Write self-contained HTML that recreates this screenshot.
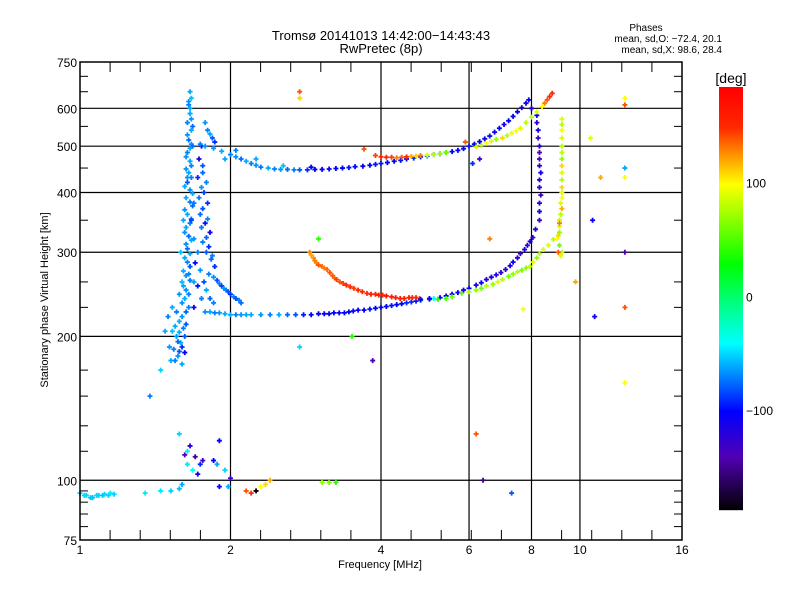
<!DOCTYPE html>
<html><head><meta charset="utf-8"><style>
body{margin:0;background:#fff;}
svg{display:block;font-family:"Liberation Sans",sans-serif;}
</style></head><body>
<svg id="c" width="800" height="600" viewBox="0 0 800 600">
<rect width="800" height="600" fill="#fff"/>
<text x="381" y="40" text-anchor="middle" font-size="13">Tromsø 20141013 14:42:00−14:43:43</text>
<text x="381" y="53" text-anchor="middle" font-size="13">RwPretec (8p)</text>
<text x="646" y="31" text-anchor="middle" font-size="10">Phases</text>
<text x="722" y="42" text-anchor="end" font-size="10">mean, sd,O: −72.4, 20.1</text>
<text x="722" y="53" text-anchor="end" font-size="10">mean, sd,X: 98.6, 28.4</text>
<text x="380" y="568" text-anchor="middle" font-size="11">Frequency [MHz]</text>
<text transform="translate(48,300) rotate(-90)" text-anchor="middle" font-size="11">Stationary phase Virtual Height [km]</text>
<g id="grid"></g>
<g id="marks"></g>
<g id="axes"></g>
<g id="cbar"></g>
<text x="731" y="83" text-anchor="middle" font-size="14">[deg]</text>
</svg>
<script>
const xTicks=[1,2,4,6,8,10,16];
const yTicks=[75,100,200,300,400,500,600,750];
const yMinor=[80,85,90,95,115,130,150,170,230,260,350,450,550,650,700];
const cbTicks=[100,0,-100];
const upperO=[[1.74,505,-70],[1.78,500,-65],[1.85,495,-65],[1.92,488,-60],[2.0,480,-70],[2.05,475,-65],[2.1,470,-75],[2.15,465,-60],[2.2,460,-70],[2.25,456,-65],[2.3,452,-72],[2.38,450,-60],[2.45,448,-70],[2.52,447,-65],[2.6,447,-75],[2.68,446,-70],[2.75,446,-80],[2.85,446,-90],[2.95,447,-100],[3.05,447,-105],[3.15,448,-105],[3.25,449,-100],[3.35,450,-100],[3.45,451,-95],[3.55,453,-98],[3.68,454,-105],[3.8,456,-100],[3.9,458,-95],[4.0,460,-95],[4.12,462,-100],[4.25,465,-100],[4.38,467,-95],[4.5,470,-100],[4.65,472,-90],[4.8,475,-95],[4.95,477,-80],[5.1,480,-100],[5.25,482,-90],[5.4,485,-90],[5.55,487,-100],[5.7,490,-100],[5.85,494,-110],[6.0,500,-95],[6.15,505,-100],[6.3,511,-100],[6.45,518,-110],[6.6,525,-95],[6.75,535,-105],[6.9,545,-100],[7.05,555,-110],[7.2,565,-100],[7.35,577,-110],[7.5,590,-100],[7.65,602,-115],[7.8,615,-110],[1.95,470,-60],[2.05,490,-70],[2.25,470,-60],[2.55,455,-55],[2.9,452,-100]];
const upperX=[[3.7,493,140],[3.9,478,145],[4.0,475,150],[4.1,474,150],[4.2,474,145],[4.3,473,130],[4.4,474,140],[4.5,475,150],[4.6,476,120],[4.7,477,110],[4.8,478,130],[4.95,479,90],[5.1,480,80],[5.25,482,70],[5.4,485,60],[6.2,498,90],[6.35,502,80],[6.5,507,100],[6.65,512,90],[6.8,517,70],[7.0,520,110],[7.15,526,80],[7.3,532,95],[7.45,538,100],[7.6,545,90],[7.8,560,80],[8.0,575,80],[8.2,590,90],[8.4,605,100],[8.5,615,130],[8.6,625,140],[8.7,635,150],[8.8,645,150]];
const rightX=[[9.2,570,90],[9.2,555,80],[9.2,540,100],[9.2,520,90],[9.2,500,80],[9.2,485,80],[9.2,470,70],[9.2,455,110],[9.2,440,90],[9.2,425,80],[9.2,410,110],[9.2,400,90],[9.2,390,100],[9.15,380,90],[9.2,370,120],[9.15,360,80],[9.1,350,80],[9.1,340,90],[9.1,330,70],[9.05,325,110],[9.0,320,100],[9.1,310,60],[9.2,300,80],[9.15,295,90],[9.1,345,130],[9.05,300,140]];
const lowerX=[[8.85,319,80],[8.65,310,90],[8.45,304,90],[8.3,298,80],[8.2,292,70],[8.05,286,90],[7.95,280,80],[7.8,278,70],[7.65,275,60],[7.5,273,80],[7.35,270,70],[7.2,267,60],[7.0,263,80],[6.85,260,90],[6.7,257,70],[6.5,255,80],[6.35,252,60],[6.2,250,70],[6.0,248,75],[5.8,246,60],[5.55,242,60],[5.4,240,50],[5.2,239,40]];
const lowerBlue=[[4.8,239,-100],[5.0,240,-105],[5.25,241,-110],[5.4,243,-100],[5.55,245,-100],[5.7,247,-110],[5.85,250,-115],[6.0,252,-100],[6.2,256,-110],[6.35,259,-100],[6.5,263,-120],[6.65,266,-110],[6.8,269,-115],[6.95,272,-125],[7.1,276,-120],[7.25,281,-110],[7.35,286,-110],[7.5,292,-120],[7.6,298,-125],[7.75,304,-110],[7.85,310,-120],[7.95,316,-115],[8.05,322,-130],[8.15,335,-120],[8.3,350,-130],[8.3,365,-110],[8.3,380,-120],[8.35,395,-130],[8.3,410,-125],[8.3,425,-115],[8.35,440,-110],[8.3,455,-120],[8.3,470,-130],[8.3,485,-140],[8.3,500,-120],[8.25,520,-130],[8.25,540,-110],[8.2,560,-120],[8.2,580,-100],[8.0,600,-110],[7.9,625,-100]];
const lowerO=[[1.82,225,-60],[1.86,224,-70],[1.9,224,-65],[1.95,223,-60],[2.0,222,-60],[2.05,222,-70],[2.1,222,-65],[2.15,222,-60],[2.2,222,-60],[2.3,222,-65],[2.4,222,-70],[2.5,222,-60],[2.6,222,-75],[2.7,222,-80],[2.8,222,-95],[2.9,222,-100],[3.0,223,-100],[3.08,223,-105],[3.15,223,-100],[3.22,224,-100],[3.3,224,-105],[3.38,224,-100],[3.45,225,-100],[3.52,226,-110],[3.6,227,-100],[3.7,227,-100],[3.8,228,-95],[3.9,229,-100],[4.0,230,-100],[4.1,231,-100],[4.2,232,-95],[4.3,233,-100],[4.4,234,-100],[4.5,235,-90],[4.6,236,-90],[4.7,237,-95],[4.8,238,-85],[5.0,239,-80],[5.1,240,-40]];
const orangeTrace=[[2.88,300,130],[2.9,296,120],[2.93,292,125],[2.95,288,130],[2.97,285,130],[3.0,282,140],[3.05,280,135],[3.08,278,130],[3.12,276,135],[3.16,272,140],[3.2,268,140],[3.23,265,135],[3.26,263,145],[3.31,260,140],[3.36,258,145],[3.41,256,150],[3.47,254,150],[3.53,252,145],[3.6,250,150],[3.67,248,155],[3.75,246,150],[3.82,245,160],[3.9,245,155],[3.96,244,160],[4.03,244,155],[4.1,243,165],[4.2,242,160],[4.28,241,160],[4.37,240,160],[4.45,240,155],[4.55,241,155],[4.62,241,150],[4.7,241,150],[4.78,240,140]];
const lowColumn=[[1.66,650,-60],[1.67,630,-55],[1.65,620,-65],[1.65,610,-70],[1.66,600,-60],[1.66,585,-60],[1.67,570,-65],[1.64,560,-70],[1.68,550,-75],[1.67,540,-60],[1.64,528,-65],[1.65,515,-75],[1.67,505,-65],[1.66,495,-60],[1.64,485,-70],[1.63,475,-65],[1.66,465,-60],[1.67,455,-70],[1.63,448,-65],[1.65,440,-60],[1.67,430,-70],[1.64,420,-80],[1.62,412,-60],[1.66,405,-65],[1.68,398,-60],[1.63,390,-60],[1.66,382,-70],[1.68,375,-75],[1.62,368,-65],[1.64,360,-60],[1.67,352,-70],[1.66,345,-70],[1.63,338,-60],[1.62,330,-65],[1.65,324,-75],[1.67,318,-60],[1.63,312,-65],[1.64,305,-75],[1.66,298,-60],[1.62,292,-60],[1.64,286,-70],[1.66,280,-80],[1.61,274,-60],[1.63,268,-65],[1.66,262,-70],[1.61,255,-60],[1.63,250,-65],[1.65,245,-70],[1.62,240,-60],[1.60,235,-65],[1.65,230,-70],[1.63,225,-75],[1.6,220,-65],[1.58,215,-60],[1.63,212,-80],[1.61,208,-70],[1.58,204,-60],[1.56,200,-65],[1.59,194,-60],[1.54,188,-70],[1.57,182,-65],[1.52,178,-60],[1.60,190,-90],[1.62,200,-80],[1.68,500,-75],[1.64,430,-65],[1.67,350,-85],[1.65,270,-70],[1.60,260,-55],[1.58,245,-65],[1.56,225,-70],[1.55,210,-60],[1.57,195,-75],[1.53,205,-55],[1.51,190,-65],[1.55,178,-70],[1.58,186,-80],[1.60,175,-60],[1.62,185,-100],[1.69,380,-70],[1.69,320,-65],[1.69,260,-60],[1.59,300,-55],[1.61,350,-60]];
const secondColumn=[[1.78,560,-65],[1.80,540,-70],[1.82,530,-60],[1.84,520,-80],[1.86,510,-90],[1.75,500,-100],[1.73,470,-110],[1.76,455,-80],[1.76,440,-75],[1.72,430,-90],[1.79,420,-70],[1.75,410,-65],[1.77,400,-85],[1.73,390,-70],[1.80,380,-90],[1.76,370,-80],[1.74,360,-75],[1.8,352,-70],[1.78,345,-95],[1.75,338,-70],[1.82,330,-110],[1.79,322,-75],[1.76,315,-70],[1.81,308,-90],[1.79,300,-80],[1.84,295,-70],[1.83,290,-75],[1.86,280,-90],[1.81,270,-70],[1.85,266,-65],[1.88,262,-80],[1.9,258,-70],[1.92,255,-85],[1.94,252,-65],[1.96,250,-70],[1.98,248,-80],[2.0,245,-90],[2.03,242,-70],[2.05,240,-80],[2.08,238,-70],[2.1,235,-75],[1.70,285,-100],[1.72,255,-95],[1.75,240,-70],[1.69,230,-110],[1.78,225,-65],[1.72,300,-70],[1.74,275,-65],[1.77,260,-80],[1.79,250,-60],[1.82,240,-75],[1.85,235,-70],[1.38,150,-70],[1.45,170,-50],[1.48,205,-60],[1.50,220,-70],[1.53,230,-60]];
const lowEcho=[[1.0,94,-50],[1.02,93,-50],[1.03,93,-50],[1.05,92,-55],[1.06,92,-55],[1.08,93,-50],[1.09,93,-50],[1.11,93,-55],[1.12,93.5,-50],[1.14,93,-50],[1.15,94,-45],[1.17,93.5,-50],[1.35,94,-45],[1.45,95,-45],[1.52,95,-50],[1.58,96,-55],[1.6,98,-60],[1.64,108,-45],[1.68,105,-40],[1.72,103,-110],[1.74,108,-90],[1.76,110,-130],[1.62,113,-140],[1.66,118,-120],[1.70,112,-150],[1.85,110,-100],[1.9,121,-100],[1.88,108,-60],[1.95,105,-50],[1.98,97,-60],[2.0,101,-130],[1.90,97,-100],[2.15,95,140],[2.2,94,150],[2.25,95,-185],[2.3,97,100],[2.35,98,110],[2.4,100,120],[3.05,99,70],[3.15,99,60],[3.25,99,40],[1.58,125,-50],[1.64,115,-45]];
const scattered=[[2.75,650,140],[2.75,630,110],[2.75,190,-50],[3.0,320,40],[3.5,200,40],[3.85,178,-140],[6.2,125,140],[6.4,100,-150],[7.3,94,-80],[6.3,470,-130],[6.6,320,130],[9.8,260,120],[10.7,220,-110],[10.6,350,-100],[10.5,520,90],[11.0,430,120],[12.3,630,100],[12.3,610,140],[12.3,450,-60],[12.3,430,100],[12.3,300,-140],[12.3,230,140],[12.3,160,100],[7.7,228,100],[5.9,510,140],[6.1,460,-90]];
const allSeries=[lowColumn,secondColumn,lowEcho,upperO,lowerO,orangeTrace,lowerBlue,upperX,lowerX,rightX,scattered];

const L=80,R=682,T=62,B=540;
const xs=f=>L+(R-L)*Math.log2(f)/4;
const ys=h=>B-(B-T)*Math.log10(h/75);
const CB={x:719,w:24,t:87,b:510,max:185,min:-187};
const cy=p=>CB.t+(CB.max-p)/(CB.max-CB.min)*(CB.b-CB.t);
const stops=[[185,[255,0,0]],[150,[255,40,0]],[125,[255,150,0]],[100,[255,255,0]],[30,[0,255,0]],[-40,[0,255,255]],[-100,[0,0,255]],[-140,[80,0,180]],[-187,[0,0,0]]];
function col(p){
  if(p>=stops[0][0])return 'rgb(255,0,0)';
  for(let i=0;i<stops.length-1;i++){const a=stops[i],b=stops[i+1];
    if(p<=a[0]&&p>=b[0]){const t=(a[0]-p)/(a[0]-b[0]);
      const c=a[1].map((v,k)=>Math.round(v+(b[1][k]-v)*t));return 'rgb('+c.join(',')+')';}}
  return 'rgb(0,0,0)';
}
const NS='http://www.w3.org/2000/svg';
function mk(tag,at,parent){const e=document.createElementNS(NS,tag);for(const k in at)e.setAttribute(k,at[k]);parent.appendChild(e);return e;}
const grid=document.getElementById('grid'),axes=document.getElementById('axes'),marks=document.getElementById('marks'),cbar=document.getElementById('cbar');
xTicks.slice(1,-1).forEach(f=>{const l=mk('line',{x1:xs(f),x2:xs(f),y1:T,y2:B,stroke:'#000','stroke-width':1.2},grid);

});
yTicks.slice(1,-1).forEach(h=>{const l=mk('line',{x1:L,x2:R,y1:ys(h),y2:ys(h),stroke:'#000','stroke-width':1.2},grid);

});
allSeries.forEach(s=>s.forEach(d=>{
  const x=xs(d[0]),y=ys(d[1]),c=col(d[2]);
  const p=mk('path',{d:`M${x-2.5},${y}h5M${x},${y-2.5}v5`,stroke:c,'stroke-width':1.8},marks);
  
  
}));
const fr=mk('rect',{x:L,y:T,width:R-L,height:B-T,fill:'none',stroke:'#000','stroke-width':1.5},axes);


for(let i=1;i<20;i++){const x=L+(R-L)*i/20;
  mk('line',{x1:x,x2:x,y1:B,y2:B-10,stroke:'#000'},axes);
  mk('line',{x1:x,x2:x,y1:T,y2:T+10,stroke:'#000'},axes);}
yMinor.forEach(h=>{mk('line',{x1:L,x2:L+8,y1:ys(h),y2:ys(h),stroke:'#000'},axes);mk('line',{x1:R,x2:R-8,y1:ys(h),y2:ys(h),stroke:'#000'},axes);});
xTicks.forEach(f=>{const t=mk('text',{x:xs(f),y:554,'text-anchor':'middle','font-size':12},axes);t.textContent=f;

});
yTicks.forEach(h=>{const t=mk('text',{x:77,y:ys(h)+5,'text-anchor':'end','font-size':12},axes);t.textContent=h;

});
for(let y=CB.t;y<CB.b;y++){const p=CB.max-(y-CB.t)/(CB.b-CB.t)*(CB.max-CB.min);
  mk('rect',{x:CB.x,y:y,width:CB.w,height:1.2,fill:col(p)},cbar);}
cbTicks.forEach(v=>{const t=mk('text',{x:746,y:cy(v)+4,'font-size':12},cbar);t.textContent=v===-100?'−100':v;

});
</script>
</body></html>
